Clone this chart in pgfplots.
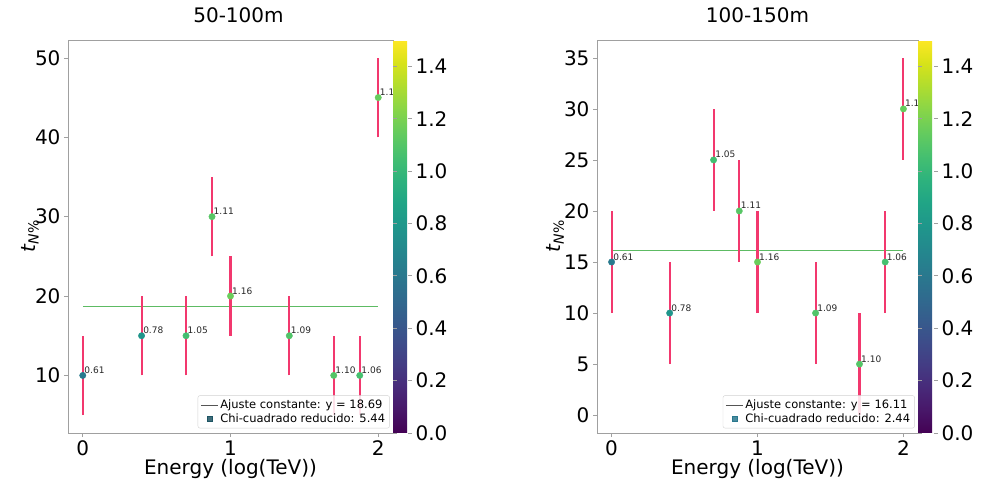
\documentclass[border=0pt]{standalone}
\usepackage{fontspec}
\setmainfont{DejaVu Sans}
\usepackage{pgfplots}
\pgfplotsset{compat=1.18}
\usepackage{pgfplotstable}

\definecolor{errred}{HTML}{F2386E}
\definecolor{fitgreen}{HTML}{5DBB63}
\definecolor{fitgray}{HTML}{555555}
\definecolor{framegray}{HTML}{A0A0A0}
\definecolor{legmark}{HTML}{2A788E}

% x = log10(E/TeV), y = t_N%, c = colour value
\pgfplotstableread{
x     y  c
0.000 10 0.61
0.398 15 0.78
0.699 15 1.05
0.875 30 1.11
1.000 20 1.16
1.398 15 1.09
1.699 10 1.10
1.875 10 1.06
2.000 45 1.15
}\tablelow

\pgfplotstableread{
x     y  c
0.000 15 0.61
0.398 10 0.78
0.699 25 1.05
0.875 20 1.11
1.000 15 1.16
1.398 10 1.09
1.699  5 1.10
1.875 15 1.06
2.000 30 1.15
}\tablehigh

% error intervals (y - 5 to y + 5), one segment per point
\pgfplotstableread{
x     y
0.000 5
0.000 15
nan   nan
0.398 10
0.398 20
nan   nan
0.699 10
0.699 20
nan   nan
0.875 25
0.875 35
nan   nan
1.000 15
1.000 25
nan   nan
1.398 10
1.398 20
nan   nan
1.699 5
1.699 15
nan   nan
1.875 5
1.875 15
nan   nan
2.000 40
2.000 50
}\errlow

\pgfplotstableread{
x     y
0.000 10
0.000 20
nan   nan
0.398 5
0.398 15
nan   nan
0.699 20
0.699 30
nan   nan
0.875 15
0.875 25
nan   nan
1.000 10
1.000 20
nan   nan
1.398 5
1.398 15
nan   nan
1.699 0
1.699 10
nan   nan
1.875 10
1.875 20
nan   nan
2.000 25
2.000 35
}\errhigh

\pgfplotsset{
  panel/.style={
    scale only axis,
    height=393pt,
    xmin=-0.1, xmax=2.1,
    xtick={0,1,2},
    tick align=outside,
    xtick pos=bottom, ytick pos=left,
    major tick length=4pt,
    tick style={framegray, line width=0.6pt},
    axis line style={framegray, line width=0.6pt},
    unbounded coords=jump,
    clip=false,
    /pgf/number format/assume math mode=true,
    tick label style={font=\fontsize{20}{24}\selectfont},
    label style={font=\fontsize{20}{24}\selectfont},
    title style={font=\fontsize{20}{24}\selectfont, at={(axis description cs:0.5,1)}, anchor=base, yshift=11pt},
    xlabel style={at={(axis description cs:0.5,0)}, anchor=base, yshift=-41pt},
    xlabel={Energy (log(TeV))},
    ylabel={\textit{t}\textsubscript{\textit{N}\%}},
    colormap name=viridis,
    point meta min=0, point meta max=1.5,
    colorbar,
    colorbar style={
      at={(1,1)}, anchor=north west,
      ytick={0,0.2,...,1.4},
      /pgf/number format/assume math mode=true,
      yticklabel style={font=\fontsize{20}{24}\selectfont,
        /pgf/number format/.cd, fixed, fixed zerofill, precision=1},
      major tick length=4pt,
      tick style={framegray, line width=0.6pt},
      axis line style={draw=none},
    },
    legend style={
      at={(axis description cs:0.99,0.012)}, anchor=south east,
      draw=gray!35, rounded corners=2pt, fill=white, fill opacity=0.85, text opacity=1,
      font=\fontsize{11.5}{13.5}\selectfont,
      row sep=-1pt, inner sep=2.5pt,
    },
    legend cell align=left,
  },
  % points coloured by their value
  pts/.style={
    scatter, only marks, mark=*, mark size=3.2pt,
    point meta=explicit,
    scatter/use mapped color={draw=mapped color, fill=mapped color},
    forget plot,
  },
  % error segments
  bars/.style={errred, line width=2.1pt, mark=none, forget plot},
  % the value printed beside each point
  vals/.style={
    draw=none, mark=none, forget plot,
    point meta=explicit,
    nodes near coords={\pgfmathprintnumber[fixed,fixed zerofill,precision=2]{\pgfplotspointmeta}},
    every node near coord/.style={anchor=base west, inner sep=0pt, xshift=1.5pt, yshift=2pt,
      font=\fontsize{9}{10}\selectfont, color=black!85},
  },
}

\begin{document}
\begin{tikzpicture}
\useasboundingbox (0pt,0pt) rectangle (1002pt,488pt);

% left panel: 50-100 m
\begin{axis}[panel,
  at={(68pt,55pt)}, anchor=south west,
  width=325pt,
  ymin=2.75, ymax=52.25,
  ytick={10,20,30,40,50},
  title={50-100m},
  title style={xshift=8pt},
  ylabel style={at={(axis description cs:-0.117,0.5)}, anchor=center},
  colorbar style={xshift=20pt, width=19pt},
]
\addplot[fitgreen, line width=1.5pt, forget plot] coordinates {(0,18.69) (2,18.69)};
\addplot[pts] table[x=x, y=y, meta=c] {\tablelow};
\addplot[bars] table[x=x, y=y] {\errlow};
\addplot[vals] table[x=x, y=y, meta=c] {\tablelow};
\addlegendimage{fitgray, line width=0.8pt}
\addlegendentry{Ajuste constante: y = 18.69}
\addlegendimage{only marks, mark=square*, mark size=2.4pt, color=legmark!70!black}
\addlegendentry{Chi-cuadrado reducido: 5.44}
\end{axis}

% right panel: 100-150 m
\begin{axis}[panel,
  at={(597pt,55pt)}, anchor=south west,
  width=321pt,
  ymin=-1.75, ymax=36.75,
  ytick={0,5,...,35},
  title={100-150m},
  ylabel style={at={(axis description cs:-0.13,0.5)}, anchor=center},
  colorbar style={xshift=22pt, width=20pt},
]
\addplot[fitgreen, line width=1.5pt, forget plot] coordinates {(0,16.11) (2,16.11)};
\addplot[pts] table[x=x, y=y, meta=c] {\tablehigh};
\addplot[bars] table[x=x, y=y] {\errhigh};
\addplot[vals] table[x=x, y=y, meta=c] {\tablehigh};
\addlegendimage{fitgray, line width=0.8pt}
\addlegendentry{Ajuste constante: y = 16.11}
\addlegendimage{only marks, mark=square*, mark size=2.4pt, color=legmark}
\addlegendentry{Chi-cuadrado reducido: 2.44}
\end{axis}
\end{tikzpicture}
\end{document}
